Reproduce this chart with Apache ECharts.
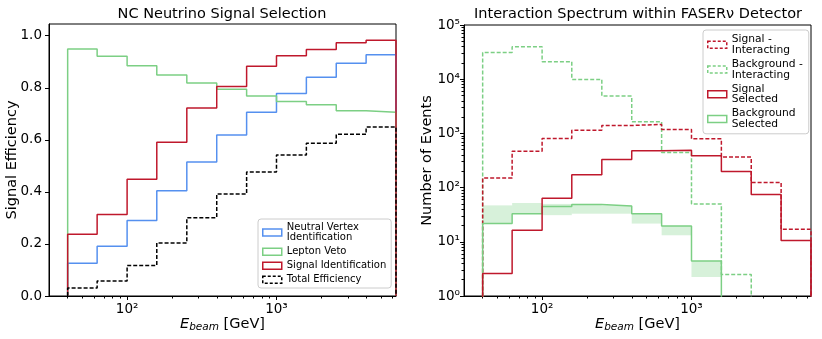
<!DOCTYPE html>
<html>
<head>
<meta charset="utf-8">
<script src="https://cdn.jsdelivr.net/npm/echarts@6/dist/echarts.min.js"></script>
<style>
html,body{margin:0;padding:0;background:#fff;}
#chart{width:822px;height:339px;}
</style>
</head>
<body>
<div id="chart"></div>
<script>
//-------------------------- data --------------------------//
// bin edges [GeV], same for both panels
var binEdges = [40, 63, 100, 158, 251, 398, 631, 1000, 1585, 2512, 3981, 6310];

// left panel: efficiencies per bin
var effVertex = [0.126, 0.191, 0.290, 0.404, 0.515, 0.619, 0.706, 0.778, 0.840, 0.894, 0.927];
var effVeto   = [0.949, 0.921, 0.885, 0.849, 0.818, 0.794, 0.768, 0.747, 0.735, 0.712, 0.706];
var effSignal = [0.237, 0.313, 0.449, 0.591, 0.722, 0.805, 0.883, 0.923, 0.947, 0.973, 0.983];
var effTotal  = [0.031, 0.058, 0.117, 0.204, 0.301, 0.392, 0.476, 0.542, 0.587, 0.621, 0.649];

// right panel: number of events per bin
var sigInteract = [151, 470, 806, 1148, 1402, 1462, 1183, 795, 365, 124, 17];
var bkgInteract = [31200, 39800, 21000, 9900, 4880, 1640, 445, 50, 2.5, 0, 0];
var sigSelected = [2.6, 16.3, 63.7, 172, 330, 477, 491, 385, 198, 74.5, 10.6];
var bkgSelected = [21.7, 33, 45, 49, 46, 33, 19.6, 4.4, 0, 0, 0];
var bkgSelLow   = [21.7, 33, 31, 33, 33, 21.7, 13.2, 2.24];
var bkgSelHigh  = [47, 52, 50, 50, 47, 33, 19.6, 4.4];

// tick values
var effTicks = [0, 0.2, 0.4, 0.6, 0.8, 1.0];
var energyTicks = [100, 1000];
var energyMinor = [40, 50, 60, 70, 80, 90, 200, 300, 400, 500, 600, 700, 800, 900, 2000, 3000, 4000, 5000, 6000];
var eventTicks = [1, 10, 100, 1000, 10000, 100000];
var eventMinor = [2, 3, 4, 5, 6, 7, 8, 9, 20, 30, 40, 50, 60, 70, 80, 90, 200, 300, 400, 500, 600, 700, 800, 900,
    2000, 3000, 4000, 5000, 6000, 7000, 8000, 9000, 20000, 30000, 40000, 50000, 60000, 70000, 80000, 90000];

var RED = '#bf182c', BLUE = '#5590ef', GREEN = '#7ccf84';
var FONT = 'DejaVu Sans';
var sup = {'0':'\u2070','1':'\u00b9','2':'\u00b2','3':'\u00b3','4':'\u2074','5':'\u2075'};

function powLabel(v) {
    var e = Math.round(Math.log(v) / Math.LN10);
    return '10' + sup[String(e)];
}

// histogram outline (histtype='step')
function stepPts(vals, floor) {
    var pts = [[binEdges[0], floor]];
    for (var i = 0; i < vals.length; i++) {
        var v = vals[i] > 0 ? vals[i] : floor;
        pts.push([binEdges[i], v]);
        pts.push([binEdges[i + 1], v]);
    }
    pts.push([binEdges[binEdges.length - 1], floor]);
    return pts;
}

function histSeries(name, vals, floor, color, dashed, xi, yi) {
    return {
        name: name, type: 'line', xAxisIndex: xi, yAxisIndex: yi,
        data: stepPts(vals, floor), showSymbol: false, symbol: 'none',
        lineStyle: {color: color, width: 1.5, type: dashed ? [4, 2] : 'solid'},
        itemStyle: {color: color},
        clip: true, silent: true
    };
}

function legendItem(name, color, dashed) {
    return {name: name, icon: 'rect',
        itemStyle: {color: 'rgba(0,0,0,0)', borderColor: color, borderWidth: 1.5, borderType: dashed ? [3, 2] : 'solid'}};
}

var bandData = [];
for (var i = 0; i < bkgSelLow.length; i++) {
    bandData.push([binEdges[i], binEdges[i + 1], bkgSelLow[i], bkgSelHigh[i]]);
}

function xMain(grid) {
    return {
        type: 'log', gridIndex: grid, min: 30, max: 6310, position: 'bottom',
        name: '{e|E}{s|beam} [GeV]', nameLocation: 'middle', nameGap: 21, nameMoveOverlap: false,
        nameTextStyle: {color: '#000', fontFamily: FONT, fontSize: 14.5,
            rich: {e: {fontStyle: 'italic', fontSize: 14.5, fontFamily: FONT, color: '#000'},
                   s: {fontStyle: 'italic', fontSize: 10.5, fontFamily: FONT, color: '#000', lineHeight: 12, padding: [6, 0, 0, 0]}}},
        axisLine: {show: true, lineStyle: {color: '#000', width: 1}},
        axisTick: {show: true, length: 4, lineStyle: {color: '#000'}, customValues: energyTicks},
        axisLabel: {show: true, margin: 6, color: '#000', fontFamily: FONT, fontSize: 13.5,
            customValues: energyTicks, formatter: powLabel},
        splitLine: {show: false}, minorTick: {show: false}
    };
}

// 次刻度 (minor ticks), drawn by a second axis on the same grid
function xMinor(grid) {
    return {
        type: 'log', gridIndex: grid, min: 30, max: 6310, position: 'bottom', offset: 0,
        axisLine: {show: false},
        axisTick: {show: true, length: 2.5, lineStyle: {color: '#000'}, customValues: energyMinor},
        axisLabel: {show: false}, splitLine: {show: false}
    };
}

var myChart = echarts.init(document.getElementById('chart'));

var option = {
    backgroundColor: '#fff',
    animation: false,
    title: [{
        text: 'NC Neutrino Signal Selection', left: 222, textAlign: 'center', top: 7, padding: 0,
        textStyle: {color: '#000', fontFamily: FONT, fontSize: 14.5, fontWeight: 'normal'}
    }, {
        text: 'Interaction Spectrum within FASER\u03bd Detector', left: 638, textAlign: 'center', top: 7, padding: 0,
        textStyle: {color: '#000', fontFamily: FONT, fontSize: 14.5, fontWeight: 'normal'}
    }],
    grid: [
        {left: 49, right: 426, top: 24, bottom: 43, show: true, borderColor: '#000', borderWidth: 1,
            backgroundColor: 'transparent', outerBoundsMode: 'none', containLabel: false},
        {left: 464, right: 11, top: 25, bottom: 43, show: true, borderColor: '#000', borderWidth: 1,
            backgroundColor: 'transparent', outerBoundsMode: 'none', containLabel: false}
    ],
    legend: [{
        orient: 'vertical', left: 258, top: 219, padding: [3, 5, 3, 4],
        itemWidth: 19, itemHeight: 7, itemGap: 3.5, selectedMode: false,
        backgroundColor: 'rgba(255,255,255,0.85)', borderColor: '#cccccc', borderWidth: 1, borderRadius: 3,
        textStyle: {color: '#000', fontFamily: FONT, fontSize: 10, lineHeight: 10.5},
        data: [legendItem('Neutral Vertex\nIdentification', BLUE, false), legendItem('Lepton Veto', GREEN, false),
               legendItem('Signal Identification', RED, false), legendItem('Total Efficiency', '#000', true)]
    }, {
        orient: 'vertical', left: 703, top: 30, padding: [4, 6, 4, 4],
        itemWidth: 19, itemHeight: 7, itemGap: 3, selectedMode: false,
        backgroundColor: 'rgba(255,255,255,0.85)', borderColor: '#cccccc', borderWidth: 1, borderRadius: 3,
        textStyle: {color: '#000', fontFamily: FONT, fontSize: 10.7, lineHeight: 10.7},
        data: [legendItem('Signal -\nInteracting', RED, true), legendItem('Background -\nInteracting', GREEN, true),
               legendItem('Signal\nSelected', RED, false), legendItem('Background\nSelected', GREEN, false)]
    }],
    xAxis: [xMain(0), xMinor(0), xMain(1), xMinor(1)],
    yAxis: [{
        type: 'value', gridIndex: 0, min: 0, max: 1.045,
        name: 'Signal Efficiency', nameLocation: 'middle', nameGap: 29, nameMoveOverlap: false,
        nameTextStyle: {color: '#000', fontFamily: FONT, fontSize: 14.5},
        axisLine: {show: true, lineStyle: {color: '#000'}},
        axisTick: {show: true, length: 4, lineStyle: {color: '#000'}, customValues: effTicks},
        axisLabel: {color: '#000', fontFamily: FONT, fontSize: 13.5, margin: 7, customValues: effTicks,
            formatter: function (v) { return v.toFixed(1); }},
        splitLine: {show: false}
    }, {
        type: 'log', gridIndex: 1, min: 1, max: 100000,
        name: 'Number of Events', nameLocation: 'middle', nameGap: 29, nameMoveOverlap: false,
        nameTextStyle: {color: '#000', fontFamily: FONT, fontSize: 14.5},
        axisLine: {show: true, lineStyle: {color: '#000'}},
        axisTick: {show: true, length: 4, lineStyle: {color: '#000'}, customValues: eventTicks},
        axisLabel: {color: '#000', fontFamily: FONT, fontSize: 13.5, margin: 4, customValues: eventTicks, formatter: powLabel},
        splitLine: {show: false}
    }, {
        type: 'log', gridIndex: 1, min: 1, max: 100000, position: 'left', offset: 0,
        axisLine: {show: false},
        axisTick: {show: true, length: 2.5, lineStyle: {color: '#000'}, customValues: eventMinor},
        axisLabel: {show: false}, splitLine: {show: false}
    }],
    series: [
        // 左图
        histSeries('Neutral Vertex\nIdentification', effVertex, 0, BLUE, false, 0, 0),
        histSeries('Lepton Veto', effVeto, 0, GREEN, false, 0, 0),
        histSeries('Signal Identification', effSignal, 0, RED, false, 0, 0),
        histSeries('Total Efficiency', effTotal, 0, '#000', true, 0, 0),
        // 右图
        {
            type: 'custom', xAxisIndex: 2, yAxisIndex: 1, silent: true, z: 1,
            data: bandData,
            encode: {x: [0, 1], y: [2, 3]},
            renderItem: function (params, api) {
                var p0 = api.coord([api.value(0), api.value(3)]);
                var p1 = api.coord([api.value(1), api.value(2)]);
                return {type: 'rect', shape: {x: p0[0], y: p0[1], width: p1[0] - p0[0], height: p1[1] - p0[1]},
                    style: {fill: 'rgba(124,207,132,0.3)'}};
            }
        },
        histSeries('Background -\nInteracting', bkgInteract, 0.01, GREEN, true, 2, 1),
        histSeries('Signal -\nInteracting', sigInteract, 0.01, RED, true, 2, 1),
        histSeries('Background\nSelected', bkgSelected, 0.01, GREEN, false, 2, 1),
        histSeries('Signal\nSelected', sigSelected, 0.01, RED, false, 2, 1)
    ]
};
myChart.setOption(option);
</script>
</body>
</html>
